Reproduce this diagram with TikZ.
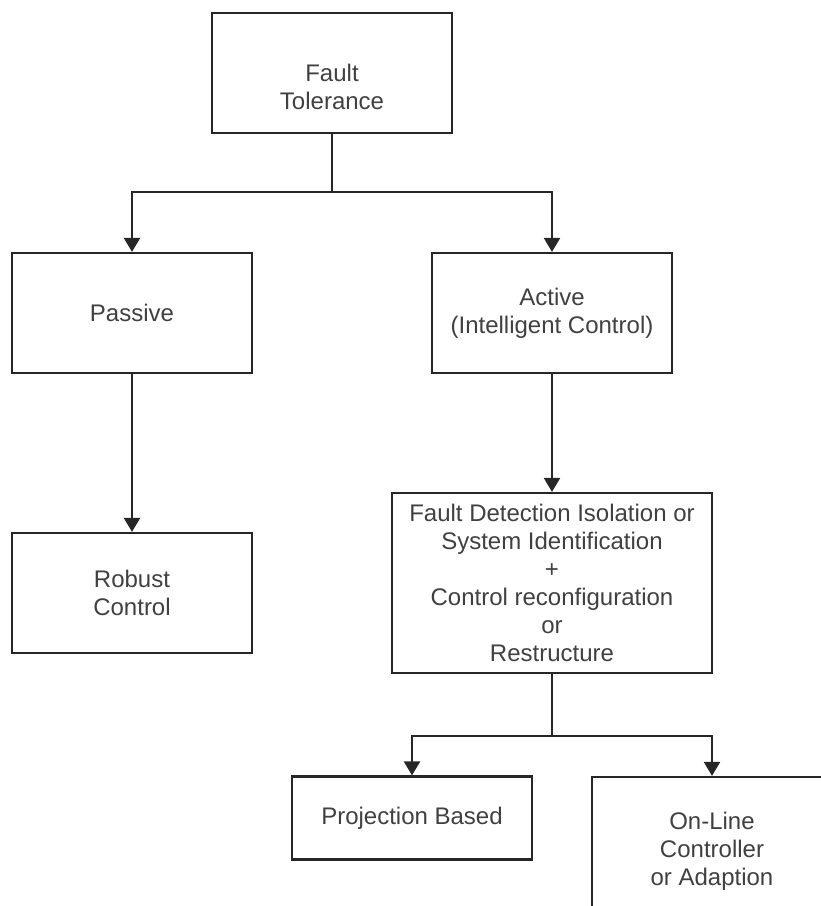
\documentclass[tikz,border=0pt]{standalone}
\usepackage{fontspec}
\setmainfont{Liberation Sans}
\usetikzlibrary{arrows.meta}
\begin{document}
\begin{tikzpicture}[x=1pt,y=-1pt,
  box/.style={draw=black!85,line width=2.2pt,minimum width=240pt,minimum height=120pt,
    align=center,text=black!75,inner sep=0pt,font=\fontsize{24}{28}\selectfont},
  txt/.style={align=center,text=black!75,inner sep=0pt,font=\fontsize{24}{28}\selectfont},
  link/.style={draw=black!85,line width=2.2pt},
  arr/.style={link,-{Triangle[length=14pt,width=16pt]}}]
\clip (0,0) rectangle (821,906);
\node[box,label={[txt,yshift=-14pt]center:Fault\\Tolerance}] (ft) at (332,73) {};
\node[box] (passive) at (132,313) {Passive};
\node[box] (active) at (552,313) {Active\\(Intelligent Control)};
\node[box] (robust) at (132,593) {Robust\\Control};
\node[box,minimum width=320pt,minimum height=180pt] (fdi) at (552,583)
  {Fault Detection Isolation or\\System Identification\\+\\Control reconfiguration\\or\\Restructure};
\node[box,minimum height=83pt] (proj) at (412,818) {Projection Based};
\node[box,minimum height=148pt] (online) at (712,851) {On-Line\\Controller\\or Adaption};
\coordinate (j1) at (332,192);
\coordinate (j2) at (552,736);
\draw[link] (ft.south) -- (j1);
\draw[arr] (j1) -| (passive.north);
\draw[arr] (j1) -| (active.north);
\draw[arr] (passive.south) -- (robust.north);
\draw[arr] (active.south) -- (fdi.north);
\draw[link] (fdi.south) -- (j2);
\draw[arr] (j2) -| (proj.north);
\draw[arr] (j2) -| (online.north);
\end{tikzpicture}
\end{document}
